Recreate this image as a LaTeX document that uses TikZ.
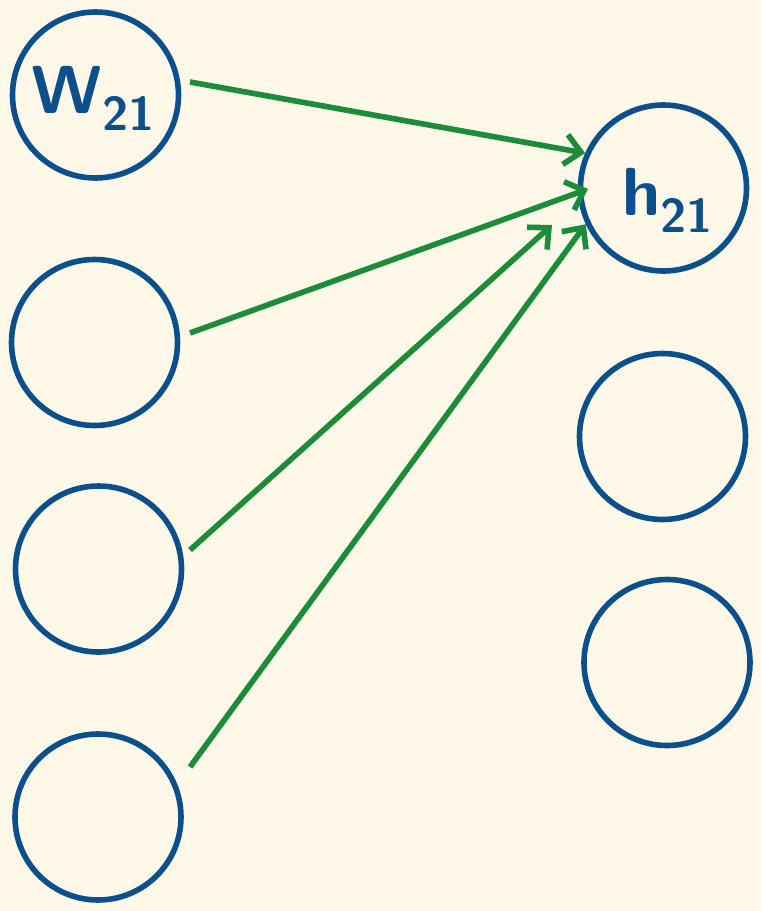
\documentclass[tikz,border=0pt]{standalone}
\usetikzlibrary{arrows.meta}

\definecolor{paper}{HTML}{FDF8E7}
\definecolor{inkblue}{HTML}{0B4F8C}
\definecolor{inkgreen}{HTML}{1B8C3A}

\tikzstyle{neuron}=[draw=inkblue, line width=2.8pt, circle, inner sep=0pt, minimum size=83pt]
\tikzstyle{hand}=[text=inkblue, inner sep=0pt, font=\fontsize{34}{34}\selectfont\sffamily\bfseries]
\tikzstyle{com}=[line width=2.8pt, draw=inkgreen, -{Straight Barb[length=8pt, width=15pt, line width=2.8pt]}]

\begin{document}
\begin{tikzpicture}[x=0.5pt, y=-0.5pt]
      \fill[paper] (0,0) rectangle (761,911);
      \useasboundingbox (0,0) rectangle (761,911);

      \node[neuron] (w1) at (95.5, 95) {};
      \node[hand] (lw) at (94, 98) {W\textsubscript{21}};
      \node[neuron] (w2) at (94.5, 342.5) {};
      \node[neuron] (w3) at (98.5, 569) {};
      \node[neuron] (w4) at (98, 817) {};
      \node[neuron] (h1) at (663.5, 188) {};
      \node[hand] (lh) at (668, 200) {h\textsubscript{21}};
      \node[neuron] (h2) at (662.5, 436.5) {};
      \node[neuron] (h3) at (667, 662.5) {};

      \coordinate (s1) at (190, 82);
      \coordinate (s2) at (190, 333);
      \coordinate (s3) at (190, 550);
      \coordinate (s4) at (190, 767);
      \coordinate (t2) at (588, 189);
      \coordinate (t3) at (552, 225);

      \draw[com] (s1) to (h1.156);
      \draw[com] (s2) to (t2);
      \draw[com] (s3) to (t3);
      \draw[com] (s4) to (h1.205);
    \end{tikzpicture}
\end{document}
